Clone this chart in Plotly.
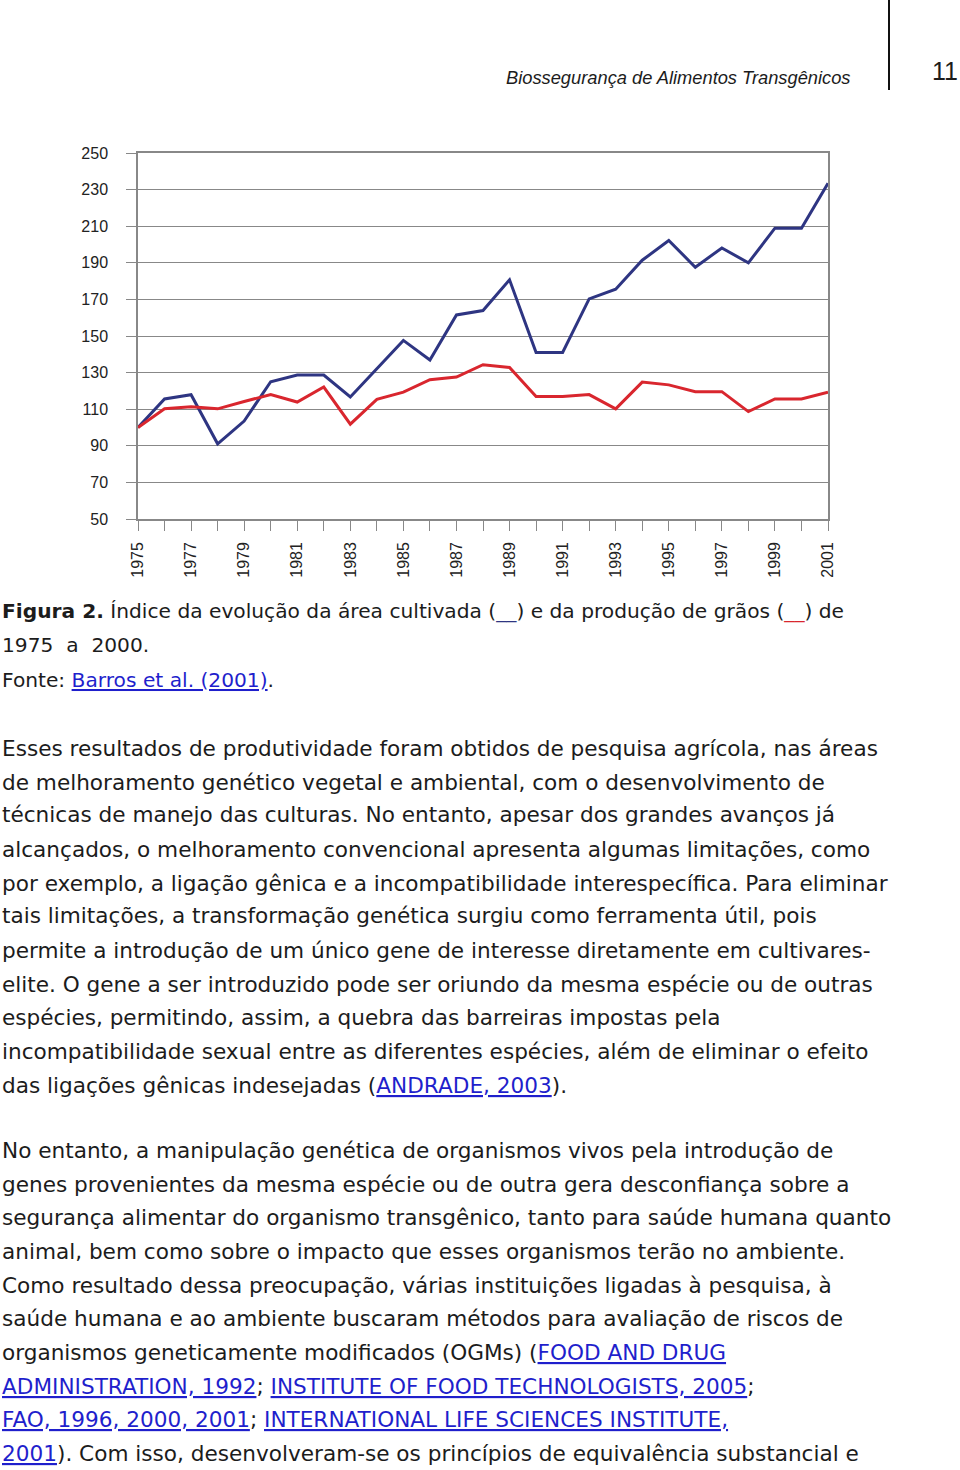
import plotly.graph_objects as go

W, H = 960, 1470

years = list(range(1975, 2002))
area = [100, 115.6, 117.9, 91.1, 103.5, 125, 128.7, 128.7, 116.7, 132, 147.6, 136.9, 161.5,
        163.9, 180.7, 141, 141, 170.3, 175.6, 191.4, 202.2, 187.6, 198.1, 190, 208.9, 208.9, 233.5]
graos = [100, 110.2, 111.3, 110.2, 114.2, 118, 113.9, 122.1, 101.8, 115.4, 119.3, 126.1, 127.6,
         134.3, 132.8, 116.9, 116.9, 118, 110.2, 124.8, 123.3, 119.6, 119.6, 108.7, 115.6, 115.6, 119.3]
year_labels = [str(y) if y % 2 == 1 else '' for y in years]
y_ticks = list(range(50, 251, 20))

blue = '#2e3582'
red = '#d9262e'
link = '#1f1fcc'
ink = '#1c1c1c'


def lk(s):
    return "<span style='color:%s'><u>%s</u></span>" % (link, s)


caption = [
    "<b>Figura 2.</b> Índice da evolução da área cultivada (<span style='color:%s'>__</span>) "
    "e da produção de grãos (<span style='color:%s'>__</span>) de" % (blue, red),
    "1975  a  2000.",
    "Fonte: " + lk("Barros et al. (2001)") + ".",
]
caption_y = [611, 645, 680]

body = [
    "Esses resultados de produtividade foram obtidos de pesquisa agrícola, nas áreas",
    "de melhoramento genético vegetal e ambiental, com o desenvolvimento de",
    "técnicas de manejo das culturas. No entanto, apesar dos grandes avanços já",
    "alcançados, o melhoramento convencional apresenta algumas limitações, como",
    "por exemplo, a ligação gênica e a incompatibilidade interespecífica. Para eliminar",
    "tais limitações, a transformação genética surgiu como ferramenta útil, pois",
    "permite a introdução de um único gene de interesse diretamente em cultivares-",
    "elite. O gene a ser introduzido pode ser oriundo da mesma espécie ou de outras",
    "espécies, permitindo, assim, a quebra das barreiras impostas pela",
    "incompatibilidade sexual entre as diferentes espécies, além de eliminar o efeito",
    "das ligações gênicas indesejadas (" + lk("ANDRADE, 2003") + ").",
    "No entanto, a manipulação genética de organismos vivos pela introdução de",
    "genes provenientes da mesma espécie ou de outra gera desconfiança sobre a",
    "segurança alimentar do organismo transgênico, tanto para saúde humana quanto",
    "animal, bem como sobre o impacto que esses organismos terão no ambiente.",
    "Como resultado dessa preocupação, várias instituições ligadas à pesquisa, à",
    "saúde humana e ao ambiente buscaram métodos para avaliação de riscos de",
    "organismos geneticamente modificados (OGMs) (" + lk("FOOD AND DRUG"),
    lk("ADMINISTRATION, 1992") + "; " + lk("INSTITUTE OF FOOD TECHNOLOGISTS, 2005") + ";",
    lk("FAO, 1996, 2000, 2001") + "; " + lk("INTERNATIONAL LIFE SCIENCES INSTITUTE,"),
    lk("2001") + "). Com isso, desenvolveram-se os princípios de equivalência substancial e",
]
body_y = [748, 782, 815, 849, 883, 916, 950, 984, 1017, 1051, 1085,
          1150, 1184, 1217, 1251, 1285, 1318, 1352, 1386, 1419, 1453]


def px(x):
    return x / W


def py(y):
    return 1 - y / H


fig = go.Figure()
fig.add_trace(go.Scatter(x=years, y=area, mode='lines', name='Área cultivada',
                         line=dict(width=3, color=blue), cliponaxis=False))
fig.add_trace(go.Scatter(x=years, y=graos, mode='lines', name='Produção de grãos',
                         line=dict(width=3, color=red), cliponaxis=False))

fig.update_xaxes(domain=[px(138), px(828)], range=[1975, 2001], tickmode='array',
                 tickvals=years, ticktext=year_labels, tickangle=-90, automargin=False,
                 ticks='outside', ticklen=10, tickcolor='#888', tickwidth=1.2,
                 showgrid=False, zeroline=False, showline=True, mirror=True,
                 linecolor='#888', linewidth=1.5, ticklabelstandoff=5,
                 tickfont=dict(family='Liberation Sans', size=16, color='#222'))
fig.update_yaxes(domain=[py(519), py(153)], range=[50, 250], tickmode='array',
                 tickvals=y_ticks, ticks='outside', ticklen=10, tickcolor='#888', tickwidth=1.2,
                 showgrid=True, gridcolor='#888', gridwidth=1.2, zeroline=False, automargin=False,
                 showline=True, mirror=True, linecolor='#888', linewidth=1.5,
                 ticklabelstandoff=15,
                 tickfont=dict(family='Liberation Sans', size=16, color='#222'))

ann = []
ann.append(dict(text='<i>Biossegurança de Alimentos Transgênicos</i>', x=px(852), y=py(77),
                xanchor='right', yanchor='middle',
                font=dict(family='Liberation Sans', size=18.3, color=ink)))
ann.append(dict(text='11', x=px(945), y=py(71), xanchor='center', yanchor='middle',
                font=dict(family='Liberation Sans', size=25, color=ink)))
for t, yy in zip(caption, caption_y):
    ann.append(dict(text=t, x=px(0), y=py(yy), xanchor='left', yanchor='middle', align='left',
                    font=dict(family='DejaVu Sans', size=20.2, color=ink)))
for t, yy in zip(body, body_y):
    ann.append(dict(text=t, x=px(0), y=py(yy), xanchor='left', yanchor='middle', align='left',
                    font=dict(family='DejaVu Sans', size=21.6, color=ink)))
for a in ann:
    a.update(xref='paper', yref='paper', showarrow=False)

fig.update_layout(width=W, height=H, margin=dict(l=0, r=0, t=0, b=0, autoexpand=False),
                  plot_bgcolor='white', paper_bgcolor='white', showlegend=False,
                  annotations=ann,
                  shapes=[dict(type='line', xref='paper', yref='paper', x0=px(889), x1=px(889),
                               y0=py(0), y1=py(90), line=dict(color='#111', width=2))])

# page body margin would push the 960x1470 figure off the window
fig.write_html("out.html", config={'displayModeBar': False},
               post_script="document.body.style.margin='0px';")
